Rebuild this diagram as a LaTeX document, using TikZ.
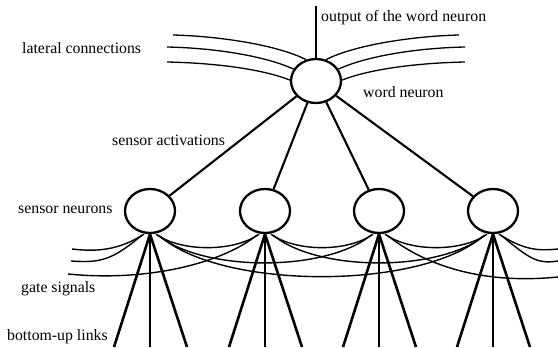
\documentclass[tikz,border=0pt]{standalone}
\usepackage{fontspec}
\setmainfont{Liberation Serif}
\usetikzlibrary{shapes.geometric,calc}
\begin{document}
\begin{tikzpicture}[x=1pt,y=-1pt,
  neuron/.style={draw, ellipse, line width=2.3pt, minimum width=50pt, minimum height=44pt, inner sep=0pt},
  lbl/.style={anchor=base west, inner sep=0pt, font=\fontsize{15.8}{18}\selectfont},
  lat/.style={line width=1.3pt},
  gate/.style={line width=1.4pt},
  act/.style={line width=2.1pt},
  bu/.style={line width=2.6pt},
  outl/.style={line width=1.6pt}]
\useasboundingbox (0,0) rectangle (558,348);

% neurons
\node[neuron] (w) at (316,81) {};
\node[neuron] (s1) at (150,211) {};
\node[neuron] (s2) at (265,211) {};
\node[neuron] (s3) at (379,211) {};
\node[neuron] (s4) at (493,211) {};

% labels
\node[lbl] (tout) at (321,21) {output of the word neuron};
\node[lbl] (tlat) at (22,53) {lateral connections};
\node[lbl] (tword) at (363,97) {word neuron};
\node[lbl] (tact) at (112,145) {sensor activations};
\node[lbl] (tsen) at (18,213) {sensor neurons};
\node[lbl] (tgate) at (21,292) {gate signals};
\node[lbl] (tbu) at (7,340) {bottom-up links};

% output
\coordinate (out) at (316,6);
\draw[outl] (w) -- (out);

% lateral connections
\coordinate (l1) at (173,35);
\coordinate (l2) at (167,47);
\coordinate (l3) at (167,62);
\coordinate (r1) at (459,35);
\coordinate (r2) at (465,47);
\coordinate (r3) at (465,62);
\draw[lat] (l1) .. controls (215,36) and (275,44) .. (w.115);
\draw[lat] (l2) .. controls (215,48) and (265,56) .. (w.152);
\draw[lat] (l3) .. controls (215,63) and (262,69) .. (w.178);
\draw[lat] (r1) .. controls (417,36) and (357,44) .. (w.65);
\draw[lat] (r2) .. controls (417,48) and (367,56) .. (w.28);
\draw[lat] (r3) .. controls (417,63) and (370,69) .. (w.2);

% sensor activations
\foreach \s in {s1,s2,s3,s4} \draw[act] (w) -- (\s);

% bottom-up links
\foreach \s/\x in {s1/150,s2/265,s3/379,s4/493}{
  \coordinate (\s a) at (\x-36,347);
  \coordinate (\s b) at (\x,347);
  \coordinate (\s c) at (\x+37,347);
  \draw[bu] (\s.south) -- (\s a);
  \draw[bu] (\s.south) -- (\s b);
  \draw[bu] (\s.south) -- (\s c);
}

% gate signals between sensors
\foreach \a/\b in {s1/s2,s2/s3,s3/s4}
  \draw[gate] ($(\a.south)+(6,0)$) .. controls +(25,18) and +(-25,18) .. ($(\b.south)+(-6,0)$);
\foreach \a/\b in {s1/s3,s2/s4}
  \draw[gate] ($(\a.south)+(8,1)$) .. controls +(45,37) and +(-45,37) .. ($(\b.south)+(-8,1)$);
\draw[gate] ($(s1.south)+(10,2)$) .. controls +(62,54) and +(-62,54) .. ($(s4.south)+(-10,2)$);

% gate signals to the edges
\coordinate (e1) at (72,249);
\coordinate (e2) at (71,261);
\coordinate (e3) at (68,274);
\coordinate (f1) at (558,249);
\coordinate (f2) at (558,261);
\coordinate (f3) at (558,277);
\draw[gate] ($(s1.south)+(-6,0)$) .. controls +(-25,16) and +(25,3) .. (e1);
\draw[gate] ($(s1.south)+(-8,1)$) .. controls +(-30,25) and +(30,2) .. (e2);
\draw[gate] ($(s2.south)+(-8,1)$) .. controls +(-35,28) and +(80,8) .. (e3);
\draw[gate] ($(s4.south)+(6,0)$) .. controls +(25,16) and +(-20,2) .. (f1);
\draw[gate] ($(s4.south)+(8,1)$) .. controls +(30,25) and +(-20,3) .. (f2);
\draw[gate] ($(s3.south)+(8,1)$) .. controls +(35,28) and +(-80,8) .. (f3);
\end{tikzpicture}
\end{document}
